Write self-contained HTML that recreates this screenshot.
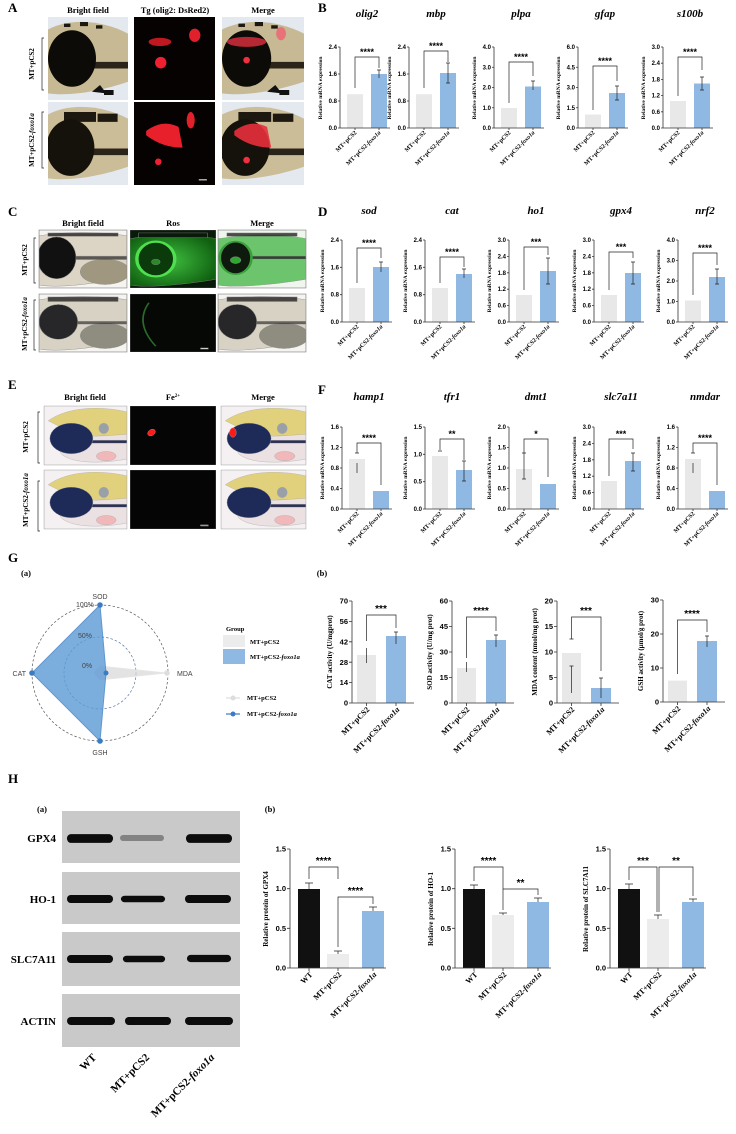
<!DOCTYPE html>
<html><head><meta charset="utf-8"><style>
html,body{margin:0;padding:0;background:#fff}
svg{display:block}
.L{font:bold 13px "Liberation Serif",serif}
.hd{font:bold 8.5px "Liberation Serif",serif;text-anchor:middle}
.sl{font:bold 7px "Liberation Serif",serif;text-anchor:middle}
.tk{font:bold 6px "Liberation Sans",sans-serif;text-anchor:end}
.yl{font:bold 5.5px "Liberation Serif",serif;text-anchor:middle}
.xl{font:bold 6px "Liberation Serif",serif;text-anchor:end}
.ti{font:italic bold 11px "Liberation Serif",serif;text-anchor:middle}
.st{font:bold 9px "Liberation Sans",sans-serif;text-anchor:middle}
.tk2{font:bold 7.5px "Liberation Sans",sans-serif;text-anchor:end}
.yl2{font:bold 7px "Liberation Serif",serif;text-anchor:middle}
.xl2{font:bold 8px "Liberation Serif",serif;text-anchor:end}
.st2{font:bold 10px "Liberation Sans",sans-serif;text-anchor:middle}
.ax{stroke:#333;stroke-width:.8;fill:none}
.br{stroke:#222;stroke-width:.7;fill:none}
.g1{fill:#e8e8e8}.b1{fill:#8fb8e3}
.rd{font:7px "Liberation Sans",sans-serif;fill:#444}
.lg{font:bold 6.5px "Liberation Serif",serif}
.bl{font:bold 11px "Liberation Serif",serif;text-anchor:end}
</style></head><body>
<svg width="736" height="1134" viewBox="0 0 736 1134" xmlns="http://www.w3.org/2000/svg">
<defs>
<symbol id="bfA" viewBox="0 0 100 100" preserveAspectRatio="none">
<rect width="100" height="100" fill="#e4e9f0"/>
<path d="M0,15 C30,0 70,5 100,20 L100,78 C70,88 30,96 0,92Z" fill="#c6b993"/>
<path d="M35,54 H100 V62 H35Z" fill="#2b2418"/>
<path d="M20,8 h8 v4 h-8z M40,6 h10 v5 h-10z M60,10 h8 v4 h-8z" fill="#1d1810"/>
<ellipse cx="30" cy="50" rx="30" ry="34" fill="#0d0b07"/>
<path d="M55,90 l10,-8 l8,10 z M70,88 h12 v6 h-12z" fill="#111"/>
</symbol>
<symbol id="bfA2" viewBox="0 0 100 100" preserveAspectRatio="none">
<rect width="100" height="100" fill="#e4e9f0"/>
<path d="M0,15 C30,0 70,5 100,20 L100,78 C70,88 30,96 0,92Z" fill="#cbbd98"/>
<path d="M20,12 h40 v12 h-40z M62,14 h25 v10 h-25z" fill="#1d1810"/>
<path d="M35,56 H100 V64 H35Z" fill="#2b2418"/>
<ellipse cx="28" cy="55" rx="30" ry="34" fill="#15120c"/>
</symbol>
<symbol id="redA1" viewBox="0 0 100 100" preserveAspectRatio="none">
<rect width="100" height="100" fill="#060202"/>
<ellipse cx="32" cy="30" rx="14" ry="5" fill="#c01820"/>
<ellipse cx="75" cy="22" rx="7" ry="8" fill="#e0202a"/>
<ellipse cx="33" cy="55" rx="7" ry="7" fill="#f02030"/>
</symbol>
<symbol id="redA2" viewBox="0 0 100 100" preserveAspectRatio="none">
<rect width="100" height="100" fill="#060202"/>
<path d="M15,35 Q35,20 55,30 L60,55 Q35,55 15,40Z" fill="#e8202c"/>
<ellipse cx="70" cy="22" rx="5" ry="10" fill="#e0202a"/>
<circle cx="30" cy="72" r="4" fill="#f02030"/>
<rect x="80" y="93" width="10" height="1.5" fill="#ccc"/>
</symbol>
<symbol id="mA1" viewBox="0 0 100 100" preserveAspectRatio="none">
<use href="#bfA" width="100" height="100"/>
<ellipse cx="30" cy="30" rx="24" ry="6" fill="#e03040" opacity=".8"/>
<ellipse cx="72" cy="20" rx="6" ry="8" fill="#f06070" opacity=".8"/>
<circle cx="30" cy="52" r="4" fill="#f03040"/>
</symbol>
<symbol id="mA2" viewBox="0 0 100 100" preserveAspectRatio="none">
<use href="#bfA2" width="100" height="100"/>
<path d="M15,35 Q35,20 55,30 L60,55 Q35,55 15,40Z" fill="#e8303c" opacity=".9"/>
<circle cx="30" cy="70" r="4" fill="#f03040"/>
</symbol>
<symbol id="bfC" viewBox="0 0 100 100" preserveAspectRatio="none">
<rect width="100" height="100" fill="#f6f4f1"/>
<path d="M0,10 C40,0 80,5 100,10 L100,80 C60,95 20,100 0,95Z" fill="#dcd5c6"/>
<ellipse cx="75" cy="72" rx="28" ry="22" fill="#9f977f"/>
<path d="M10,5 h80 v6 h-80z" fill="#222" opacity=".8"/>
<path d="M35,45 h65 v6 h-65z" fill="#222" opacity=".7"/>
<ellipse cx="20" cy="48" rx="22" ry="36" fill="#111"/>
</symbol>
<symbol id="bfC2" viewBox="0 0 100 100" preserveAspectRatio="none">
<rect width="100" height="100" fill="#f6f4f1"/>
<path d="M0,10 C40,0 80,5 100,10 L100,80 C60,95 20,100 0,95Z" fill="#d8d2c4"/>
<ellipse cx="75" cy="72" rx="28" ry="22" fill="#8f8c80"/>
<path d="M10,5 h80 v8 h-80z" fill="#222" opacity=".8"/>
<path d="M35,47 h65 v5 h-65z" fill="#333" opacity=".7"/>
<ellipse cx="22" cy="48" rx="22" ry="30" fill="#27272a"/>
</symbol>
<radialGradient id="gg" cx=".45" cy=".5" r=".6"><stop offset="0" stop-color="#3fbf3f"/><stop offset="1" stop-color="#106010"/></radialGradient>
<symbol id="grC1" viewBox="0 0 100 100" preserveAspectRatio="none">
<rect width="100" height="100" fill="#0a1a0a"/>
<path d="M0,15 C40,5 80,8 100,15 L100,85 C60,95 20,100 0,95Z" fill="url(#gg)"/>
<path d="M10,5 h80 v8 h-80z" fill="#0a1a0a"/>
<ellipse cx="30" cy="50" rx="22" ry="30" fill="#0b3a0b" stroke="#4ee04e" stroke-width="4"/>
<circle cx="30" cy="55" r="5" fill="#2a8a2a"/>
</symbol>
<symbol id="grC2" viewBox="0 0 100 100" preserveAspectRatio="none">
<rect width="100" height="100" fill="#050805"/>
<path d="M22,15 Q5,50 30,90" stroke="#2a6a2a" stroke-width="2" fill="none"/>
<rect x="82" y="93" width="9" height="2" fill="#ddd"/>
</symbol>
<symbol id="mC1" viewBox="0 0 100 100" preserveAspectRatio="none">
<rect width="100" height="100" fill="#f0f6ee"/>
<path d="M0,15 C40,5 80,8 100,15 L100,85 C60,95 20,100 0,95Z" fill="#6cc46c"/>
<path d="M10,5 h80 v6 h-80z M35,45 h65 v5 h-65z" fill="#222" opacity=".8"/>
<ellipse cx="20" cy="48" rx="18" ry="28" fill="#0d1a0d" stroke="#3aa03a" stroke-width="3"/>
<circle cx="20" cy="52" r="6" fill="#2fa82f"/>
</symbol>
<symbol id="bfE" viewBox="0 0 100 100" preserveAspectRatio="none">
<rect width="100" height="100" fill="#f5f1f2"/>
<path d="M5,25 C30,0 70,0 100,10 L100,50 L40,50Z" fill="#e2d17c"/>
<path d="M20,55 L100,48 L100,90 C60,100 30,95 20,80Z" fill="#ebe0e2"/>
<path d="M40,58 h60 v5 h-60z" fill="#2b2f50"/>
<ellipse cx="75" cy="85" rx="12" ry="8" fill="#f0b8b8"/>
<circle cx="33" cy="55" r="26" fill="#1e2a58"/>
<ellipse cx="72" cy="38" rx="6" ry="9" fill="#9aa0a8"/>
</symbol>
<symbol id="rdE1" viewBox="0 0 100 100" preserveAspectRatio="none">
<rect width="100" height="100" fill="#050505"/>
<ellipse cx="25" cy="45" rx="4" ry="6" fill="#ff1a1a" transform="rotate(25 25 45)"/>
</symbol>
<symbol id="rdE2" viewBox="0 0 100 100" preserveAspectRatio="none">
<rect width="100" height="100" fill="#050505"/>
<rect x="82" y="93" width="9" height="2" fill="#999"/>
</symbol>
<symbol id="mE1" viewBox="0 0 100 100" preserveAspectRatio="none">
<use href="#bfE" width="100" height="100"/>
<ellipse cx="14" cy="45" rx="4" ry="8" fill="#ff1a1a"/>
</symbol>
<symbol id="band" viewBox="0 0 50 10" preserveAspectRatio="none">
<rect x="1" y="1" width="48" height="8" rx="4" fill="#0c0c0c"/>
</symbol>
</defs>

<!-- ===== A ===== -->
<text class="L" x="8" y="12">A</text>
<text class="hd" x="88" y="13">Bright field</text>
<text class="hd" x="175" y="13">Tg (olig2: DsRed2)</text>
<text class="hd" x="263" y="13">Merge</text>
<use href="#bfA" x="48" y="17" width="80" height="83"/>
<use href="#redA1" x="134" y="17" width="81" height="83"/>
<use href="#mA1" x="222" y="17" width="82" height="83"/>
<use href="#bfA2" x="48" y="102" width="80" height="83"/>
<use href="#redA2" x="134" y="102" width="81" height="83"/>
<use href="#mA2" x="222" y="102" width="82" height="83"/>
<path d="M44,38h-2v52h2 M44,112h-2v56h2" class="br"/>
<text class="sl" transform="translate(34,64) rotate(-90)">MT+pCS2</text>
<text class="sl" transform="translate(34,140) rotate(-90)">MT+pCS2-<tspan font-style="italic">foxo1a</tspan></text>

<!-- ===== C ===== -->
<text class="L" x="8" y="216">C</text>
<text class="hd" x="83" y="226">Bright field</text>
<text class="hd" x="173" y="226">Ros</text>
<text class="hd" x="262" y="226">Merge</text>
<g stroke="#888" stroke-width=".6" fill="none">
<use href="#bfC" x="39" y="230" width="88" height="58"/>
<use href="#grC1" x="130" y="230" width="86" height="58"/>
<use href="#mC1" x="218" y="230" width="88" height="58"/>
<use href="#bfC2" x="39" y="294" width="88" height="58"/>
<use href="#grC2" x="130" y="294" width="86" height="58"/>
<use href="#bfC2" x="218" y="294" width="88" height="58"/>
<rect x="39" y="230" width="88" height="58"/><rect x="218" y="230" width="88" height="58"/>
<rect x="39" y="294" width="88" height="58"/><rect x="218" y="294" width="88" height="58"/>
</g>
<path d="M36,238h-2v45h2 M36,300h-2v50h2" class="br"/>
<text class="sl" transform="translate(27,260) rotate(-90)">MT+pCS2</text>
<text class="sl" transform="translate(27,324) rotate(-90)">MT+pCS2-<tspan font-style="italic">foxo1a</tspan></text>

<!-- ===== E ===== -->
<text class="L" x="8" y="389">E</text>
<text class="hd" x="85" y="400">Bright field</text>
<text class="hd" x="173" y="400">Fe<tspan font-size="5" dy="-3">2+</tspan></text>
<text class="hd" x="263" y="400">Merge</text>
<g stroke="#aaa" stroke-width=".5" fill="none">
<use href="#bfE" x="44" y="406" width="83" height="59"/>
<use href="#rdE1" x="130" y="406" width="86" height="59"/>
<use href="#mE1" x="221" y="406" width="85" height="59"/>
<use href="#bfE" x="44" y="470" width="83" height="59"/>
<use href="#rdE2" x="130" y="470" width="86" height="59"/>
<use href="#bfE" x="221" y="470" width="85" height="59"/>
<rect x="44" y="406" width="83" height="59"/><rect x="221" y="406" width="85" height="59"/>
<rect x="44" y="470" width="83" height="59"/><rect x="221" y="470" width="85" height="59"/>
</g>
<path d="M40,412h-2v51h2 M40,481h-2v50h2" class="br"/>
<text class="sl" transform="translate(28,437) rotate(-90)">MT+pCS2</text>
<text class="sl" transform="translate(28,500) rotate(-90)">MT+pCS2-<tspan font-style="italic">foxo1a</tspan></text>

<!-- ===== B ===== -->
<text class="L" x="318" y="12">B</text>
<g transform="translate(340,128)">
<rect class="g1" x="7" y="-33.8" width="16" height="33.8"/><rect class="b1" x="31" y="-54" width="16" height="54"/>
<path class="ax" d="M0,-81V0H50M-2,-81H0M-2,-54H0M-2,-27H0M-2,0H0M15,0v2M39,0v2"/>
<path class="br" d="M15,-40V-71H39V-60 M39,-50v-8 M37,-58h4"/>
<text class="st" x="27" y="-73">****</text>
<text class="tk" x="-3" y="-79">2.4</text><text class="tk" x="-3" y="-52">1.6</text><text class="tk" x="-3" y="-25">0.8</text><text class="tk" x="-3" y="2">0.0</text>
<text class="yl" transform="translate(-18,-40) rotate(-90)">Relative mRNA expression</text>
<text class="xl" transform="translate(17,5) rotate(-45)">MT+pCS2</text><text class="xl" transform="translate(41,5) rotate(-45)">MT+pCS2-<tspan font-style="italic">foxo1a</tspan></text>
<text class="ti" x="27" y="-111">olig2</text></g>
<g transform="translate(409,128)">
<rect class="g1" x="7" y="-33.8" width="16" height="33.8"/><rect class="b1" x="31" y="-55" width="16" height="55"/>
<path class="ax" d="M0,-81V0H50M-2,-81H0M-2,-54H0M-2,-27H0M-2,0H0M15,0v2M39,0v2"/>
<path class="br" d="M15,-40V-77H39V-66 M39,-45v-20 M37,-65h4M37,-45h4"/>
<text class="st" x="27" y="-79">****</text>
<text class="tk" x="-3" y="-79">2.4</text><text class="tk" x="-3" y="-52">1.6</text><text class="tk" x="-3" y="-25">0.8</text><text class="tk" x="-3" y="2">0.0</text>
<text class="yl" transform="translate(-18,-40) rotate(-90)">Relative mRNA expression</text>
<text class="xl" transform="translate(17,5) rotate(-45)">MT+pCS2</text><text class="xl" transform="translate(41,5) rotate(-45)">MT+pCS2-<tspan font-style="italic">foxo1a</tspan></text>
<text class="ti" x="27" y="-111">mbp</text></g>
<g transform="translate(494,128)">
<rect class="g1" x="7" y="-20" width="16" height="20"/><rect class="b1" x="31" y="-41.5" width="16" height="41.5"/>
<path class="ax" d="M0,-81V0H50M-2,-81H0M-2,-60.75H0M-2,-40.5H0M-2,-20.25H0M-2,0H0M15,0v2M39,0v2"/>
<path class="br" d="M15,-25V-66H39V-52 M39,-38v-9 M37,-47h4"/>
<text class="st" x="27" y="-68">****</text>
<text class="tk" x="-3" y="-79">4.0</text><text class="tk" x="-3" y="-58.75">3.0</text><text class="tk" x="-3" y="-38.5">2.0</text><text class="tk" x="-3" y="-18.25">1.0</text><text class="tk" x="-3" y="2">0.0</text>
<text class="yl" transform="translate(-18,-40) rotate(-90)">Relative mRNA expression</text>
<text class="xl" transform="translate(17,5) rotate(-45)">MT+pCS2</text><text class="xl" transform="translate(41,5) rotate(-45)">MT+pCS2-<tspan font-style="italic">foxo1a</tspan></text>
<text class="ti" x="27" y="-111">plpa</text></g>
<g transform="translate(578,128)">
<rect class="g1" x="7" y="-13.5" width="16" height="13.5"/><rect class="b1" x="31" y="-35" width="16" height="35"/>
<path class="ax" d="M0,-81V0H50M-2,-81H0M-2,-60.75H0M-2,-40.5H0M-2,-20.25H0M-2,0H0M15,0v2M39,0v2"/>
<path class="br" d="M15,-18V-62H39V-47 M39,-28v-14 M37,-42h4M37,-28h4"/>
<text class="st" x="27" y="-64">****</text>
<text class="tk" x="-3" y="-79">6.0</text><text class="tk" x="-3" y="-58.75">4.5</text><text class="tk" x="-3" y="-38.5">3.0</text><text class="tk" x="-3" y="-18.25">1.5</text><text class="tk" x="-3" y="2">0.0</text>
<text class="yl" transform="translate(-18,-40) rotate(-90)">Relative mRNA expression</text>
<text class="xl" transform="translate(17,5) rotate(-45)">MT+pCS2</text><text class="xl" transform="translate(41,5) rotate(-45)">MT+pCS2-<tspan font-style="italic">foxo1a</tspan></text>
<text class="ti" x="27" y="-111">gfap</text></g>
<g transform="translate(663,128)">
<rect class="g1" x="7" y="-27" width="16" height="27"/><rect class="b1" x="31" y="-44.5" width="16" height="44.5"/>
<path class="ax" d="M0,-81V0H50M-2,-81H0M-2,-64.8H0M-2,-48.6H0M-2,-32.4H0M-2,-16.2H0M-2,0H0M15,0v2M39,0v2"/>
<path class="br" d="M15,-32V-71H39V-58 M39,-38v-13 M37,-51h4M37,-38h4"/>
<text class="st" x="27" y="-73">****</text>
<text class="tk" x="-3" y="-79">3.0</text><text class="tk" x="-3" y="-62.8">2.4</text><text class="tk" x="-3" y="-46.6">1.8</text><text class="tk" x="-3" y="-30.4">1.2</text><text class="tk" x="-3" y="-14.2">0.6</text><text class="tk" x="-3" y="2">0.0</text>
<text class="yl" transform="translate(-18,-40) rotate(-90)">Relative mRNA expression</text>
<text class="xl" transform="translate(17,5) rotate(-45)">MT+pCS2</text><text class="xl" transform="translate(41,5) rotate(-45)">MT+pCS2-<tspan font-style="italic">foxo1a</tspan></text>
<text class="ti" x="27" y="-111">s100b</text></g>

<!-- ===== D ===== -->
<text class="L" x="318" y="216">D</text>
<g transform="translate(342,322)">
<rect class="g1" x="7" y="-34" width="16" height="34"/><rect class="b1" x="31" y="-55" width="16" height="55"/>
<path class="ax" d="M0,-82V0H50M-2,-82H0M-2,-54.7H0M-2,-27.3H0M-2,0H0M15,0v2M39,0v2"/>
<path class="br" d="M15,-39V-74H39V-64 M39,-50v-10 M37,-60h4"/>
<text class="st" x="27" y="-76">****</text>
<text class="tk" x="-3" y="-80">2.4</text><text class="tk" x="-3" y="-52.7">1.6</text><text class="tk" x="-3" y="-25.3">0.8</text><text class="tk" x="-3" y="2">0.0</text>
<text class="yl" transform="translate(-18,-41) rotate(-90)">Relative mRNA expression</text>
<text class="xl" transform="translate(17,5) rotate(-45)">MT+pCS2</text><text class="xl" transform="translate(41,5) rotate(-45)">MT+pCS2-<tspan font-style="italic">foxo1a</tspan></text>
<text class="ti" x="27" y="-108">sod</text></g>
<g transform="translate(425,322)">
<rect class="g1" x="7" y="-34" width="16" height="34"/><rect class="b1" x="31" y="-48" width="16" height="48"/>
<path class="ax" d="M0,-82V0H50M-2,-82H0M-2,-54.7H0M-2,-27.3H0M-2,0H0M15,0v2M39,0v2"/>
<path class="br" d="M15,-39V-65H39V-55 M39,-44v-9 M37,-53h4"/>
<text class="st" x="27" y="-67">****</text>
<text class="tk" x="-3" y="-80">2.4</text><text class="tk" x="-3" y="-52.7">1.6</text><text class="tk" x="-3" y="-25.3">0.8</text><text class="tk" x="-3" y="2">0.0</text>
<text class="yl" transform="translate(-18,-41) rotate(-90)">Relative mRNA expression</text>
<text class="xl" transform="translate(17,5) rotate(-45)">MT+pCS2</text><text class="xl" transform="translate(41,5) rotate(-45)">MT+pCS2-<tspan font-style="italic">foxo1a</tspan></text>
<text class="ti" x="27" y="-108">cat</text></g>
<g transform="translate(509,322)">
<rect class="g1" x="7" y="-27" width="16" height="27"/><rect class="b1" x="31" y="-51" width="16" height="51"/>
<path class="ax" d="M0,-82V0H50M-2,-82H0M-2,-65.6H0M-2,-49.2H0M-2,-32.8H0M-2,-16.4H0M-2,0H0M15,0v2M39,0v2"/>
<path class="br" d="M15,-32V-75H39V-67 M39,-38v-26 M37,-64h4M37,-38h4"/>
<text class="st" x="27" y="-77">***</text>
<text class="tk" x="-3" y="-80">3.0</text><text class="tk" x="-3" y="-63.6">2.4</text><text class="tk" x="-3" y="-47.2">1.8</text><text class="tk" x="-3" y="-30.8">1.2</text><text class="tk" x="-3" y="-14.4">0.6</text><text class="tk" x="-3" y="2">0.0</text>
<text class="yl" transform="translate(-18,-41) rotate(-90)">Relative mRNA expression</text>
<text class="xl" transform="translate(17,5) rotate(-45)">MT+pCS2</text><text class="xl" transform="translate(41,5) rotate(-45)">MT+pCS2-<tspan font-style="italic">foxo1a</tspan></text>
<text class="ti" x="27" y="-108">ho1</text></g>
<g transform="translate(594,322)">
<rect class="g1" x="7" y="-27" width="16" height="27"/><rect class="b1" x="31" y="-49" width="16" height="49"/>
<path class="ax" d="M0,-82V0H50M-2,-82H0M-2,-65.6H0M-2,-49.2H0M-2,-32.8H0M-2,-16.4H0M-2,0H0M15,0v2M39,0v2"/>
<path class="br" d="M15,-32V-70H39V-64 M39,-38v-22 M37,-60h4M37,-38h4"/>
<text class="st" x="27" y="-72">***</text>
<text class="tk" x="-3" y="-80">3.0</text><text class="tk" x="-3" y="-63.6">2.4</text><text class="tk" x="-3" y="-47.2">1.8</text><text class="tk" x="-3" y="-30.8">1.2</text><text class="tk" x="-3" y="-14.4">0.6</text><text class="tk" x="-3" y="2">0.0</text>
<text class="yl" transform="translate(-18,-41) rotate(-90)">Relative mRNA expression</text>
<text class="xl" transform="translate(17,5) rotate(-45)">MT+pCS2</text><text class="xl" transform="translate(41,5) rotate(-45)">MT+pCS2-<tspan font-style="italic">foxo1a</tspan></text>
<text class="ti" x="27" y="-108">gpx4</text></g>
<g transform="translate(678,322)">
<rect class="g1" x="7" y="-21.5" width="16" height="21.5"/><rect class="b1" x="31" y="-45" width="16" height="45"/>
<path class="ax" d="M0,-82V0H50M-2,-82H0M-2,-61.5H0M-2,-41H0M-2,-20.5H0M-2,0H0M15,0v2M39,0v2"/>
<path class="br" d="M15,-27V-69H39V-57 M39,-38v-15 M37,-53h4M37,-38h4"/>
<text class="st" x="27" y="-71">****</text>
<text class="tk" x="-3" y="-80">4.0</text><text class="tk" x="-3" y="-59.5">3.0</text><text class="tk" x="-3" y="-39">2.0</text><text class="tk" x="-3" y="-18.5">1.0</text><text class="tk" x="-3" y="2">0.0</text>
<text class="yl" transform="translate(-18,-41) rotate(-90)">Relative mRNA expression</text>
<text class="xl" transform="translate(17,5) rotate(-45)">MT+pCS2</text><text class="xl" transform="translate(41,5) rotate(-45)">MT+pCS2-<tspan font-style="italic">foxo1a</tspan></text>
<text class="ti" x="27" y="-108">nrf2</text></g>

<!-- ===== F ===== -->
<text class="L" x="318" y="394">F</text>
<g transform="translate(342,509)">
<rect class="g1" x="7" y="-50" width="16" height="50"/><rect class="b1" x="31" y="-18" width="16" height="18"/>
<path class="ax" d="M0,-82V0H50M-2,-82H0M-2,-61.5H0M-2,-41H0M-2,-20.5H0M-2,0H0M15,0v2M39,0v2"/>
<path class="br" d="M15,-56V-66H39V-24 M15,-46v10 M13,-56h4"/>
<text class="st" x="27" y="-68">****</text>
<text class="tk" x="-3" y="-80">1.6</text><text class="tk" x="-3" y="-59.5">1.2</text><text class="tk" x="-3" y="-39">0.8</text><text class="tk" x="-3" y="-18.5">0.4</text><text class="tk" x="-3" y="2">0.0</text>
<text class="yl" transform="translate(-18,-41) rotate(-90)">Relative mRNA expression</text>
<text class="xl" transform="translate(17,5) rotate(-45)">MT+pCS2</text><text class="xl" transform="translate(41,5) rotate(-45)">MT+pCS2-<tspan font-style="italic">foxo1a</tspan></text>
<text class="ti" x="27" y="-109">hamp1</text></g>
<g transform="translate(425,509)">
<rect class="g1" x="7" y="-53" width="16" height="53"/><rect class="b1" x="31" y="-39" width="16" height="39"/>
<path class="ax" d="M0,-82V0H50M-2,-82H0M-2,-54.7H0M-2,-27.3H0M-2,0H0M15,0v2M39,0v2"/>
<path class="br" d="M15,-59V-70H39V-49 M39,-28v-20 M37,-48h4M37,-28h4 M13,-58h4"/>
<text class="st" x="27" y="-72">**</text>
<text class="tk" x="-3" y="-80">1.5</text><text class="tk" x="-3" y="-52.7">1.0</text><text class="tk" x="-3" y="-25.3">0.5</text><text class="tk" x="-3" y="2">0.0</text>
<text class="yl" transform="translate(-18,-41) rotate(-90)">Relative mRNA expression</text>
<text class="xl" transform="translate(17,5) rotate(-45)">MT+pCS2</text><text class="xl" transform="translate(41,5) rotate(-45)">MT+pCS2-<tspan font-style="italic">foxo1a</tspan></text>
<text class="ti" x="27" y="-109">tfr1</text></g>
<g transform="translate(509,509)">
<rect class="g1" x="7" y="-40" width="16" height="40"/><rect class="b1" x="31" y="-25" width="16" height="25"/>
<path class="ax" d="M0,-82V0H50M-2,-82H0M-2,-61.5H0M-2,-41H0M-2,-20.5H0M-2,0H0M15,0v2M39,0v2"/>
<path class="br" d="M15,-56V-70H39V-32 M15,-56v26 M13,-56h4M13,-30h4"/>
<text class="st" x="27" y="-72">*</text>
<text class="tk" x="-3" y="-80">2.0</text><text class="tk" x="-3" y="-59.5">1.5</text><text class="tk" x="-3" y="-39">1.0</text><text class="tk" x="-3" y="-18.5">0.5</text><text class="tk" x="-3" y="2">0.0</text>
<text class="yl" transform="translate(-18,-41) rotate(-90)">Relative mRNA expression</text>
<text class="xl" transform="translate(17,5) rotate(-45)">MT+pCS2</text><text class="xl" transform="translate(41,5) rotate(-45)">MT+pCS2-<tspan font-style="italic">foxo1a</tspan></text>
<text class="ti" x="27" y="-109">dmt1</text></g>
<g transform="translate(594,509)">
<rect class="g1" x="7" y="-28" width="16" height="28"/><rect class="b1" x="31" y="-48" width="16" height="48"/>
<path class="ax" d="M0,-82V0H50M-2,-82H0M-2,-65.6H0M-2,-49.2H0M-2,-32.8H0M-2,-16.4H0M-2,0H0M15,0v2M39,0v2"/>
<path class="br" d="M15,-33V-70H39V-60 M39,-38v-18 M37,-56h4M37,-38h4"/>
<text class="st" x="27" y="-72">***</text>
<text class="tk" x="-3" y="-80">3.0</text><text class="tk" x="-3" y="-63.6">2.4</text><text class="tk" x="-3" y="-47.2">1.8</text><text class="tk" x="-3" y="-30.8">1.2</text><text class="tk" x="-3" y="-14.4">0.6</text><text class="tk" x="-3" y="2">0.0</text>
<text class="yl" transform="translate(-18,-41) rotate(-90)">Relative mRNA expression</text>
<text class="xl" transform="translate(17,5) rotate(-45)">MT+pCS2</text><text class="xl" transform="translate(41,5) rotate(-45)">MT+pCS2-<tspan font-style="italic">foxo1a</tspan></text>
<text class="ti" x="27" y="-109">slc7a11</text></g>
<g transform="translate(678,509)">
<rect class="g1" x="7" y="-50" width="16" height="50"/><rect class="b1" x="31" y="-18" width="16" height="18"/>
<path class="ax" d="M0,-82V0H50M-2,-82H0M-2,-61.5H0M-2,-41H0M-2,-20.5H0M-2,0H0M15,0v2M39,0v2"/>
<path class="br" d="M15,-56V-66H39V-24 M15,-46v10 M13,-56h4"/>
<text class="st" x="27" y="-68">****</text>
<text class="tk" x="-3" y="-80">1.6</text><text class="tk" x="-3" y="-59.5">1.2</text><text class="tk" x="-3" y="-39">0.8</text><text class="tk" x="-3" y="-18.5">0.4</text><text class="tk" x="-3" y="2">0.0</text>
<text class="yl" transform="translate(-18,-41) rotate(-90)">Relative mRNA expression</text>
<text class="xl" transform="translate(17,5) rotate(-45)">MT+pCS2</text><text class="xl" transform="translate(41,5) rotate(-45)">MT+pCS2-<tspan font-style="italic">foxo1a</tspan></text>
<text class="ti" x="27" y="-109">nmdar</text></g>

<!-- ===== G ===== -->
<text class="L" x="8" y="562">G</text>
<text class="hd" x="26" y="576">(a)</text>
<text class="hd" x="322" y="576">(b)</text>
<circle cx="100" cy="673" r="68" fill="none" stroke="#555" stroke-width=".7" stroke-dasharray="2.5,2"/>
<circle cx="100" cy="673" r="36" fill="none" stroke="#5577aa" stroke-width=".7" stroke-dasharray="2.5,2"/>
<polygon points="100,666 167,673 100,680 94,673" fill="#d8d8d8" opacity=".7" stroke="#ddd" stroke-width=".8"/>
<polygon points="100,605 106,673 100,741 32,673" fill="#5b9bd5" opacity=".8" stroke="#3a7cc4" stroke-width="1"/>
<circle cx="100" cy="673" r="5" fill="#7aa8d8" opacity=".8"/>
<g fill="#3a7cc4"><circle cx="100" cy="605" r="2.8"/><circle cx="32" cy="673" r="2.8"/><circle cx="100" cy="741" r="2.8"/><circle cx="106" cy="673" r="2.5"/></g>
<circle cx="167" cy="673" r="2.8" fill="#ddd"/>
<text class="rd" x="100" y="599" text-anchor="middle">SOD</text>
<text class="rd" x="100" y="755" text-anchor="middle">GSH</text>
<text class="rd" x="26" y="676" text-anchor="end">CAT</text>
<text class="rd" x="177" y="676">MDA</text>
<text class="rd" x="76" y="607" font-size="6">100%</text>
<text class="rd" x="78" y="638" font-size="6">50%</text>
<text class="rd" x="82" y="668" font-size="6">0%</text>
<text class="lg" x="226" y="631">Group</text>
<rect x="223" y="635" width="22" height="12" fill="#ececec"/>
<rect x="223" y="649" width="22" height="15" fill="#8fb8e3"/>
<text class="lg" x="250" y="644">MT+pCS2</text>
<text class="lg" x="250" y="659">MT+pCS2-<tspan font-style="italic">foxo1a</tspan></text>
<path d="M226,698h14" stroke="#ddd" stroke-width="1.2"/><circle cx="233" cy="698" r="2.5" fill="#ddd"/>
<path d="M226,714h14" stroke="#3a7cc4" stroke-width="1.2"/><circle cx="233" cy="714" r="2.5" fill="#3a7cc4"/>
<text class="lg" x="247" y="700">MT+pCS2</text>
<text class="lg" x="247" y="716">MT+pCS2-<tspan font-style="italic">foxo1a</tspan></text>

<g transform="translate(352,703)">
<rect class="g1" x="5" y="-48" width="19" height="48"/><rect class="b1" x="34" y="-67" width="20" height="67"/>
<path class="ax" d="M0,-102V0H62M-3,-102H0M-3,-81.6H0M-3,-61.2H0M-3,-40.8H0M-3,-20.4H0M-3,0H0M14.5,0v3M44,0v3"/>
<path class="br" d="M14.5,-62V-88H44V-75 M14.5,-40v-15M44,-59v-12 M42,-71h4"/>
<text class="st2" x="29" y="-91">***</text>
<text class="tk2" x="-4" y="-99.5">70</text><text class="tk2" x="-4" y="-79">56</text><text class="tk2" x="-4" y="-58.6">42</text><text class="tk2" x="-4" y="-38.2">28</text><text class="tk2" x="-4" y="-17.8">14</text><text class="tk2" x="-4" y="2.5">0</text>
<text class="yl2" transform="translate(-20,-51) rotate(-90)">CAT activity (U/mgprot)</text>
<text class="xl2" transform="translate(18,7) rotate(-45)">MT+pCS2</text><text class="xl2" transform="translate(48,7) rotate(-45)">MT+pCS2-<tspan font-style="italic">foxo1a</tspan></text></g>
<g transform="translate(452,703)">
<rect class="g1" x="5" y="-35" width="19" height="35"/><rect class="b1" x="34" y="-63" width="20" height="63"/>
<path class="ax" d="M0,-102V0H62M-3,-102H0M-3,-76.5H0M-3,-51H0M-3,-25.5H0M-3,0H0M14.5,0v3M44,0v3"/>
<path class="br" d="M14.5,-45V-86H44V-72 M14.5,-31v-10M44,-56v-12 M42,-68h4"/>
<text class="st2" x="29" y="-89">****</text>
<text class="tk2" x="-4" y="-99.5">60</text><text class="tk2" x="-4" y="-74">45</text><text class="tk2" x="-4" y="-48.5">30</text><text class="tk2" x="-4" y="-23">15</text><text class="tk2" x="-4" y="2.5">0</text>
<text class="yl2" transform="translate(-20,-51) rotate(-90)">SOD activity (U/mg prot)</text>
<text class="xl2" transform="translate(18,7) rotate(-45)">MT+pCS2</text><text class="xl2" transform="translate(48,7) rotate(-45)">MT+pCS2-<tspan font-style="italic">foxo1a</tspan></text></g>
<g transform="translate(557,703)">
<rect class="g1" x="5" y="-50" width="19" height="50"/><rect class="b1" x="34" y="-15" width="20" height="15"/>
<path class="ax" d="M0,-102V0H62M-3,-102H0M-3,-76.5H0M-3,-51H0M-3,-25.5H0M-3,0H0M14.5,0v3M44,0v3"/>
<path class="br" d="M14.5,-64V-86H44V-32 M14.5,-37v27 M12.5,-64h4M12.5,-37h4 M44,-25v20M42,-25h4"/>
<text class="st2" x="29" y="-89">***</text>
<text class="tk2" x="-4" y="-99.5">20</text><text class="tk2" x="-4" y="-74">15</text><text class="tk2" x="-4" y="-48.5">10</text><text class="tk2" x="-4" y="-23">5</text><text class="tk2" x="-4" y="2.5">0</text>
<text class="yl2" transform="translate(-20,-51) rotate(-90)">MDA content (nmol/mg prot)</text>
<text class="xl2" transform="translate(18,7) rotate(-45)">MT+pCS2</text><text class="xl2" transform="translate(48,7) rotate(-45)">MT+pCS2-<tspan font-style="italic">foxo1a</tspan></text></g>
<g transform="translate(663,702)">
<rect class="g1" x="5" y="-21.4" width="19" height="21.4"/><rect class="b1" x="34" y="-61" width="20" height="61"/>
<path class="ax" d="M0,-102V0H62M-3,-102H0M-3,-68H0M-3,-34H0M-3,0H0M14.5,0v3M44,0v3"/>
<path class="br" d="M14.5,-28V-82H44V-70 M44,-55v-11M42,-66h4"/>
<text class="st2" x="29" y="-85">****</text>
<text class="tk2" x="-4" y="-99.5">30</text><text class="tk2" x="-4" y="-65.5">20</text><text class="tk2" x="-4" y="-31.5">10</text><text class="tk2" x="-4" y="2.5">0</text>
<text class="yl2" transform="translate(-20,-51) rotate(-90)">GSH activity (μmol/g prot)</text>
<text class="xl2" transform="translate(18,7) rotate(-45)">MT+pCS2</text><text class="xl2" transform="translate(48,7) rotate(-45)">MT+pCS2-<tspan font-style="italic">foxo1a</tspan></text></g>

<!-- ===== H ===== -->
<text class="L" x="8" y="783">H</text>
<text class="hd" x="42" y="812">(a)</text>
<text class="hd" x="270" y="812">(b)</text>
<g fill="#c9c9c9">
<rect x="62" y="811" width="178" height="52"/><rect x="62" y="872" width="178" height="52"/>
<rect x="62" y="932" width="178" height="54"/><rect x="62" y="994" width="178" height="53"/>
</g>
<use href="#band" x="66" y="833" width="48" height="11"/>
<rect x="120" y="835" width="44" height="6" rx="3" fill="#555" opacity=".6"/>
<use href="#band" x="185" y="833" width="48" height="11"/>
<use href="#band" x="66" y="894" width="48" height="10"/>
<use href="#band" x="120" y="895" width="46" height="8"/>
<use href="#band" x="184" y="894" width="48" height="10"/>
<use href="#band" x="66" y="954" width="48" height="10"/>
<use href="#band" x="122" y="955" width="44" height="8"/>
<use href="#band" x="186" y="954" width="46" height="9"/>
<use href="#band" x="66" y="1016" width="50" height="10"/>
<use href="#band" x="124" y="1016" width="48" height="10"/>
<use href="#band" x="184" y="1016" width="50" height="10"/>
<text class="bl" x="56" y="842">GPX4</text>
<text class="bl" x="56" y="903">HO-1</text>
<text class="bl" x="56" y="963">SLC7A11</text>
<text class="bl" x="56" y="1025">ACTIN</text>
<g style="font:bold 11px 'Liberation Serif',serif;text-anchor:end">
<text transform="translate(97,1058) rotate(-45)">WT</text>
<text transform="translate(150,1058) rotate(-45)">MT+pCS2</text>
<text transform="translate(215,1058) rotate(-45)">MT+pCS2-<tspan font-style="italic">foxo1a</tspan></text>
</g>

<g transform="translate(290,968)">
<rect x="8" y="-79" width="22" height="79" fill="#111"/><rect x="37" y="-14" width="22" height="14" fill="#ececec"/><rect class="b1" x="72" y="-57" width="22" height="57"/>
<path class="ax" d="M0,-119V0H96M-3,-119H0M-3,-79.3H0M-3,-39.7H0M-3,0H0M19,0v3M48,0v3M83,0v3"/>
<path class="br" d="M19,-79v-6M15,-85h8 M48,-14v-3M44,-17h8 M83,-57v-4M79,-61h8"/>
<path class="br" d="M19,-89V-101H48V-89 M48,-21V-71H83V-64"/>
<text class="st2" x="33.5" y="-104">****</text><text class="st2" x="65.5" y="-74">****</text>
<text class="tk2" x="-4" y="-116.5">1.5</text><text class="tk2" x="-4" y="-76.8">1.0</text><text class="tk2" x="-4" y="-37.2">0.5</text><text class="tk2" x="-4" y="2.5">0.0</text>
<text class="yl2" font-size="7.5" transform="translate(-22,-59) rotate(-90)">Relative protein of GPX4</text>
<text class="xl2" transform="translate(23,7) rotate(-45)">WT</text><text class="xl2" transform="translate(52,7) rotate(-45)">MT+pCS2</text><text class="xl2" transform="translate(87,7) rotate(-45)">MT+pCS2-<tspan font-style="italic">foxo1a</tspan></text></g>
<g transform="translate(455,968)">
<rect x="8" y="-79" width="22" height="79" fill="#111"/><rect x="37" y="-53" width="22" height="53" fill="#ececec"/><rect class="b1" x="72" y="-66" width="22" height="66"/>
<path class="ax" d="M0,-119V0H96M-3,-119H0M-3,-79.3H0M-3,-39.7H0M-3,0H0M19,0v3M48,0v3M83,0v3"/>
<path class="br" d="M19,-79v-4M15,-83h8 M48,-53v-2M44,-55h8 M83,-66v-4M79,-70h8"/>
<path class="br" d="M19,-87V-101H48V-58 M48,-68V-79H83V-73"/>
<text class="st2" x="33.5" y="-104">****</text><text class="st2" x="65.5" y="-82">**</text>
<text class="tk2" x="-4" y="-116.5">1.5</text><text class="tk2" x="-4" y="-76.8">1.0</text><text class="tk2" x="-4" y="-37.2">0.5</text><text class="tk2" x="-4" y="2.5">0.0</text>
<text class="yl2" font-size="7.5" transform="translate(-22,-59) rotate(-90)">Relative protein of HO-1</text>
<text class="xl2" transform="translate(23,7) rotate(-45)">WT</text><text class="xl2" transform="translate(52,7) rotate(-45)">MT+pCS2</text><text class="xl2" transform="translate(87,7) rotate(-45)">MT+pCS2-<tspan font-style="italic">foxo1a</tspan></text></g>
<g transform="translate(610,968)">
<rect x="8" y="-79" width="22" height="79" fill="#111"/><rect x="37" y="-49" width="22" height="49" fill="#ececec"/><rect class="b1" x="72" y="-66" width="22" height="66"/>
<path class="ax" d="M0,-119V0H96M-3,-119H0M-3,-79.3H0M-3,-39.7H0M-3,0H0M19,0v3M48,0v3M83,0v3"/>
<path class="br" d="M19,-79v-5M15,-84h8 M48,-49v-4M44,-53h8 M83,-66v-3M79,-69h8"/>
<path class="br" d="M19,-88V-101H47V-56 M49,-56V-101H83V-72"/>
<text class="st2" x="33" y="-104">***</text><text class="st2" x="66" y="-104">**</text>
<text class="tk2" x="-4" y="-116.5">1.5</text><text class="tk2" x="-4" y="-76.8">1.0</text><text class="tk2" x="-4" y="-37.2">0.5</text><text class="tk2" x="-4" y="2.5">0.0</text>
<text class="yl2" font-size="7.5" transform="translate(-22,-59) rotate(-90)">Relative protein of SLC7A11</text>
<text class="xl2" transform="translate(23,7) rotate(-45)">WT</text><text class="xl2" transform="translate(52,7) rotate(-45)">MT+pCS2</text><text class="xl2" transform="translate(87,7) rotate(-45)">MT+pCS2-<tspan font-style="italic">foxo1a</tspan></text></g>
</svg>
</body></html>
